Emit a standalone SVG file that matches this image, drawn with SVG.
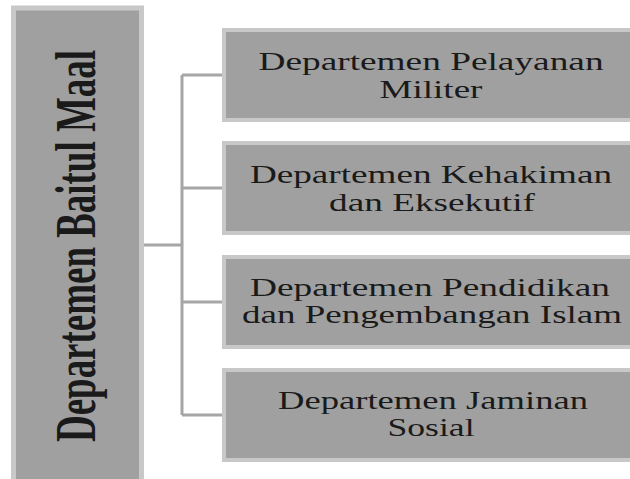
<svg xmlns="http://www.w3.org/2000/svg" width="630" height="479" viewBox="0 0 630 479">
<style>
.box{fill:#a0a0a0;stroke:#c8c8c8;stroke-width:4}
.t{font-family:"Liberation Serif","Times New Roman",serif;font-size:26px;fill:#1a1a1a;text-anchor:middle}
.tv{font-family:"Liberation Serif","Times New Roman",serif;font-size:56px;font-weight:bold;fill:#1a1a1a;text-anchor:middle}
.c{stroke:#a6a6a6;stroke-width:3;fill:none}
</style>
<rect width="630" height="479" fill="#ffffff"/>
<g id="connectors">
<path class="c" d="M144 245H182M182 75V415M182 75H222M182 188H222M182 302H222M182 415H222"/>
</g>
<g id="root">
<rect class="box" x="13.5" y="8" width="128" height="480" style="stroke-width:5"/>
<text class="tv" transform="translate(95,246) rotate(-90) scale(0.7,1)" x="0" y="0" textLength="560" lengthAdjust="spacingAndGlyphs">Departemen Baitul Maal</text>
</g>
<g id="n1">
<rect class="box" x="224" y="30" width="420" height="90"/>
<text class="t" transform="translate(431,70) scale(1.42,1)" textLength="243" lengthAdjust="spacingAndGlyphs">Departemen Pelayanan</text>
<text class="t" transform="translate(431,98) scale(1.42,1)" textLength="72.5" lengthAdjust="spacingAndGlyphs">Militer</text>
</g>
<g id="n2">
<rect class="box" x="224" y="143" width="420" height="90"/>
<text class="t" transform="translate(431,183) scale(1.42,1)" textLength="255" lengthAdjust="spacingAndGlyphs">Departemen Kehakiman</text>
<text class="t" transform="translate(432,211) scale(1.42,1)" textLength="145" lengthAdjust="spacingAndGlyphs">dan Eksekutif</text>
</g>
<g id="n3">
<rect class="box" x="224" y="257" width="420" height="90"/>
<text class="t" transform="translate(430,296) scale(1.42,1)" textLength="253.5" lengthAdjust="spacingAndGlyphs">Departemen Pendidikan</text>
<text class="t" transform="translate(432,323) scale(1.42,1)" textLength="267.6" lengthAdjust="spacingAndGlyphs">dan Pengembangan Islam</text>
</g>
<g id="n4">
<rect class="box" x="224" y="370" width="420" height="90"/>
<text class="t" transform="translate(433,409) scale(1.42,1)" textLength="218.3" lengthAdjust="spacingAndGlyphs">Departemen Jaminan</text>
<text class="t" transform="translate(431,436) scale(1.42,1)" textLength="61.3" lengthAdjust="spacingAndGlyphs">Sosial</text>
</g>
</svg>
